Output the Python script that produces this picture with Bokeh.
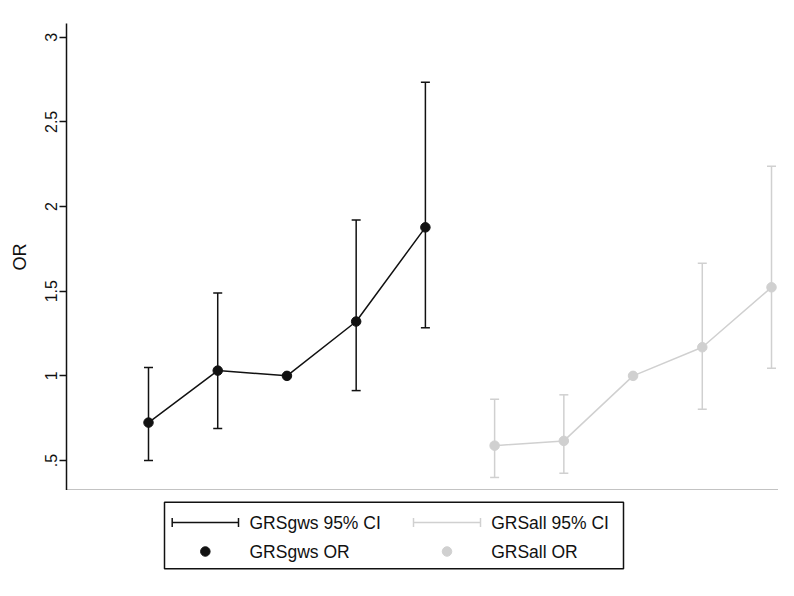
from bokeh.plotting import figure
from bokeh.models import Range1d, FixedTicker, Whisker, TeeHead, ColumnDataSource, LinearAxis
from bokeh.layouts import column
from bokeh.embed import file_html
from bokeh.resources import INLINE
from bokeh.core.properties import value

# ---- data ----
x_gws = [1, 2, 3, 4, 5]
or_gws = [0.724, 1.031, 1.0, 1.321, 1.877]
lo_gws = [0.500, 0.689, None, 0.913, 1.284]
hi_gws = [1.049, 1.490, None, 1.921, 2.734]

x_all = [6, 7, 8, 9, 10]
or_all = [0.588, 0.616, 1.0, 1.169, 1.523]
lo_all = [0.400, 0.425, None, 0.803, 1.045]
hi_all = [0.862, 0.888, None, 1.665, 2.238]

y_ticks = [0.5, 1, 1.5, 2, 2.5, 3]
y_tick_labels = [".5", "1", "1.5", "2", "2.5", "3"]

series_names = ["GRSgws", "GRSall"]
legend_ci = [n + " 95% CI" for n in series_names]
legend_or = [n + " OR" for n in series_names]

BLACK = "#111111"
GRAY = "#d0d0d0"
FONT = "Liberation Sans"

LEFT, TOP, FW, FH, RIGHT = 66, 23, 712, 467, 0

p = figure(frame_width=FW, frame_height=FH, output_backend="svg",
           toolbar_location=None, x_range=Range1d(-0.1846, 10.101),
           y_range=Range1d(0.323, 3.081), x_axis_location=None, y_axis_location=None,
           min_border_left=LEFT, min_border_right=RIGHT, min_border_top=TOP, min_border_bottom=0)
p.grid.visible = False
p.outline_line_color = None
p.background_fill_color = "white"

yax = LinearAxis(ticker=FixedTicker(ticks=y_ticks),
                 major_label_overrides={t: l for t, l in zip(y_ticks, y_tick_labels)},
                 major_label_orientation="vertical", axis_label="OR")
yax.axis_line_width = 1.5
yax.axis_line_color = BLACK
yax.major_tick_line_width = 1.5
yax.major_tick_line_color = BLACK
yax.major_tick_out = 7
yax.major_tick_in = 0
yax.minor_tick_out = 0
yax.minor_tick_in = 0
yax.major_label_standoff = 2
yax.major_label_text_font = FONT
yax.major_label_text_font_size = "16px"
yax.major_label_text_color = BLACK
yax.axis_label_text_font = FONT
yax.axis_label_text_font_size = "18px"
yax.axis_label_text_font_style = "normal"
yax.axis_label_text_color = BLACK
yax.axis_label_standoff = 13
p.add_layout(yax, "left")

xax = LinearAxis(ticker=FixedTicker(ticks=[]))
xax.axis_line_width = 1.5
xax.axis_line_color = BLACK
xax.major_tick_out = 0
xax.major_tick_in = 0
xax.minor_tick_out = 0
xax.minor_tick_in = 0
xax.major_label_standoff = 0
xax.major_label_text_font_size = "0px"
p.add_layout(xax, "below")


def add_series(xs, ors, los, his, color):
    wx = [x for x, l in zip(xs, los) if l is not None]
    wl = [l for l in los if l is not None]
    wh = [h for h in his if h is not None]
    src = ColumnDataSource(dict(x=wx, lo=wl, hi=wh))
    w = Whisker(base="x", lower="lo", upper="hi", source=src,
                line_color=color, line_width=1.5,
                upper_head=TeeHead(size=9, line_color=color, line_width=1.5),
                lower_head=TeeHead(size=9, line_color=color, line_width=1.5))
    p.add_layout(w)
    p.line(xs, ors, line_color=color, line_width=1.5)
    p.scatter(xs, ors, size=9.5, fill_color=color, line_color=color)


add_series(x_all, or_all, lo_all, hi_all, GRAY)
add_series(x_gws, or_gws, lo_gws, hi_gws, BLACK)

# ---- legend panel (coordinates in page pixels) ----
LH = 90
x0 = LEFT
y0 = TOP + FH
leg = figure(frame_width=FW, frame_height=LH, output_backend="svg", toolbar_location=None,
             x_range=Range1d(x0, x0 + FW), y_range=Range1d(y0 + LH, y0),
             x_axis_location=None, y_axis_location=None,
             min_border_left=LEFT, min_border_right=RIGHT, min_border_top=0, min_border_bottom=0)
leg.grid.visible = False
leg.outline_line_color = None

leg.quad(left=[164], right=[623], top=[501.7], bottom=[568.3],
         fill_color=None, line_color=BLACK, line_width=1.5)

colors = [BLACK, GRAY]
sym_x0 = [171.7, 413]
sym_x1 = [238, 480]
txt_x = [249, 490.7]
row1, row2 = 522, 551
for i in range(2):
    c = colors[i]
    leg.segment(x0=[sym_x0[i]], y0=[row1], x1=[sym_x1[i]], y1=[row1], line_color=c, line_width=1.5)
    leg.segment(x0=[sym_x0[i], sym_x1[i]], y0=[row1 - 4.5, row1 - 4.5],
                x1=[sym_x0[i], sym_x1[i]], y1=[row1 + 4.5, row1 + 4.5], line_color=c, line_width=1.5)
    leg.scatter([(sym_x0[i] + sym_x1[i]) / 2], [row2], size=9.5, fill_color=c, line_color=c)
    leg.text([txt_x[i]], [row1], text=[legend_ci[i]], text_font=value(FONT),
             text_font_size="17.5px", text_baseline="middle", text_color=BLACK)
    leg.text([txt_x[i]], [row2], text=[legend_or[i]], text_font=value(FONT),
             text_font_size="17.5px", text_baseline="middle", text_color=BLACK)

layout = column(p, leg, spacing=0)
open("out.html", "w").write(file_html(layout, INLINE))
